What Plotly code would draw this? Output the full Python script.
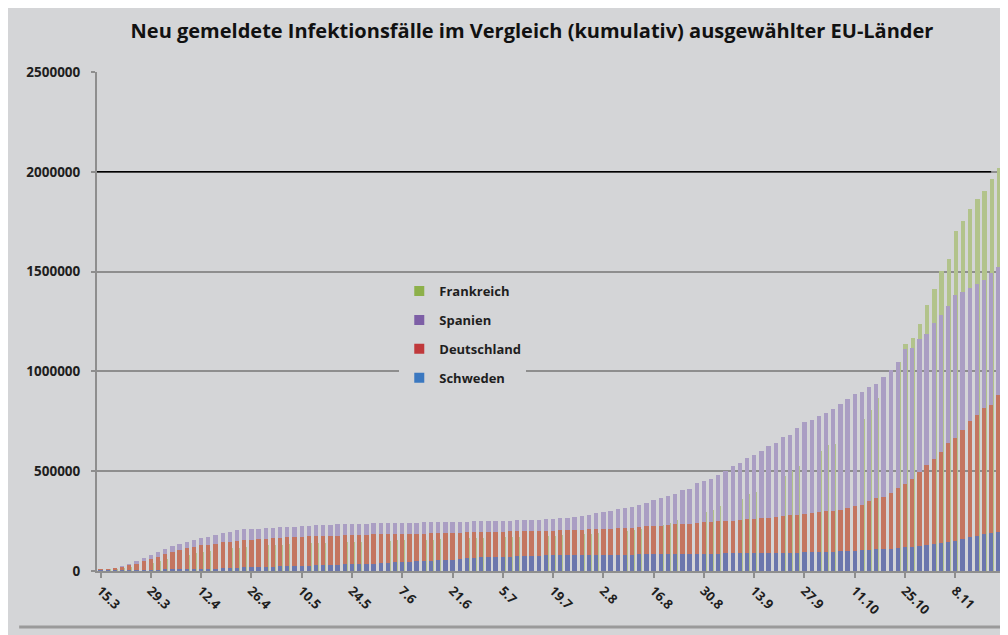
import pandas as pd
import plotly.graph_objects as go

# every second day from 15.3 to 20.11 (one row = two weeks)
dates = pd.date_range("2020-03-15", periods=126, freq="2D")
labels = [f"{d.day}.{d.month}" for d in dates]
tick_labels = labels[::7]

# cumulative cases in thousands
frankreich = [
    5.4, 7.7, 10.9, 14.5, 20.1, 25.2, 33.4,
    40.2, 52.1, 59.1, 68.6, 70.5, 82.0, 90.7,
    94.0, 98.1, 108.8, 112.6, 114.7, 117.3, 121.7,
    124.1, 125.8, 128.3, 130.2, 131.9, 137.8, 138.9,
    139.5, 140.2, 141.9, 142.3, 142.9, 143.8, 144.6,
    145.3, 145.6, 146.2, 148.8, 151.3, 152.4, 153.6,
    154.2, 154.6, 155.6, 156.8, 157.2, 158.2, 158.6,
    160.1, 161.3, 162.9, 163.5, 164.3, 165.7, 166.4,
    168.3, 169.5, 170.8, 171.0, 172.4, 173.3, 175.0,
    176.9, 178.3, 180.5, 182.2, 183.8, 186.6, 189.9,
    191.3, 193.8, 197.9, 202.8, 204.4, 211.6, 221.3,
    225.8, 232.6, 240.9, 254.6, 259.2, 272.1, 285.7,
    297.6, 307.4, 324.3, 342.3, 348.5, 363.2, 383.6,
    395.7, 411.0, 434.2, 459.8, 475.4, 499.2, 527.0,
    552.0, 570.7, 603.1, 631.9, 638.0, 664.9, 702.1,
    732.4, 761.7, 806.4, 867.5, 905.0, 956.9, 1046.8,
    1138.5, 1165.3, 1235.1, 1331.9, 1413.9, 1502.8, 1561.0,
    1705.0, 1755.0, 1812.0, 1865.0, 1905.0, 1962.0, 2020.0,
]
spanien = [
    7.8, 11.7, 17.1, 25.4, 35.1, 49.5, 64.1,
    78.8, 94.4, 110.2, 124.7, 135.0, 146.7, 157.0,
    163.0, 170.1, 180.7, 190.8, 196.7, 204.2, 208.4,
    209.5, 211.3, 213.4, 216.6, 218.0, 220.3, 222.9,
    224.4, 227.4, 229.5, 231.4, 232.0, 233.0, 234.8,
    235.4, 236.3, 237.9, 238.6, 239.6, 240.3, 240.9,
    241.3, 241.7, 242.3, 243.2, 244.1, 244.7, 245.6,
    246.3, 246.8, 247.5, 248.5, 248.8, 249.7, 250.1,
    250.5, 251.8, 253.1, 253.9, 255.9, 257.5, 258.9,
    260.3, 264.0, 267.6, 272.4, 276.0, 282.6, 288.5,
    293.9, 302.8, 309.9, 314.4, 323.0, 329.8, 342.8,
    356.5, 364.2, 377.9, 386.1, 405.4, 412.6, 439.3,
    452.7, 462.9, 479.6, 498.9, 525.5, 543.4, 566.3,
    582.0, 603.2, 625.7, 640.0, 671.5, 682.3, 716.5,
    748.3, 758.2, 778.6, 789.9, 813.4, 835.9, 861.1,
    888.9, 896.1, 921.4, 936.6, 974.4, 1005.3, 1046.1,
    1110.4, 1116.7, 1160.1, 1185.7, 1240.7, 1284.1, 1328.8,
    1381.2, 1398.3, 1417.7, 1437.2, 1458.6, 1492.4, 1523.8,
]
deutschland = [
    5.8, 9.4, 15.3, 22.2, 29.1, 37.3, 50.9,
    62.1, 71.8, 84.8, 96.1, 103.4, 113.3, 122.2,
    127.9, 131.4, 137.7, 143.3, 145.7, 150.6, 154.2,
    157.6, 159.1, 162.5, 164.8, 166.2, 168.2, 170.6,
    171.3, 173.2, 174.5, 175.7, 176.6, 177.8, 179.0,
    179.7, 180.6, 181.5, 182.9, 183.4, 184.1, 185.4,
    185.7, 186.5, 187.2, 187.8, 188.3, 189.8, 190.9,
    191.4, 192.9, 194.0, 194.9, 195.2, 196.0, 196.9,
    197.3, 198.1, 198.9, 199.7, 200.3, 201.0, 202.0,
    202.6, 203.7, 205.0, 206.2, 206.9, 208.7, 210.4,
    211.0, 212.0, 214.2, 216.3, 217.3, 219.9, 223.0,
    225.4, 227.4, 230.0, 233.8, 235.3, 238.0, 241.8,
    243.6, 245.4, 248.6, 251.7, 252.9, 256.0, 259.7,
    261.1, 263.7, 267.8, 271.4, 274.2, 278.1, 282.3,
    285.3, 289.2, 294.4, 299.2, 301.0, 307.1, 314.7,
    325.3, 333.0, 348.6, 366.3, 373.2, 392.0, 415.0,
    437.9, 459.3, 496.6, 532.9, 560.4, 597.6, 641.0,
    667.0, 705.3, 751.1, 783.0, 815.7, 833.3, 879.6,
]
schweden = [
    1.0, 1.2, 1.4, 1.8, 2.0, 2.5, 3.1,
    3.7, 4.4, 5.6, 6.8, 7.2, 8.4, 9.7,
    10.5, 11.4, 12.5, 13.8, 14.8, 16.0, 17.6,
    18.6, 19.6, 21.1, 22.3, 22.7, 23.9, 25.3,
    26.3, 27.3, 28.6, 29.7, 30.4, 31.5, 32.8,
    33.8, 34.4, 35.7, 37.5, 37.8, 40.8, 43.9,
    44.7, 46.8, 48.3, 50.9, 51.6, 54.6, 56.2,
    56.6, 60.8, 63.9, 65.1, 67.7, 69.7, 71.4,
    71.4, 72.6, 74.3, 75.8, 76.5, 77.3, 78.0,
    78.0, 78.5, 79.4, 79.8, 79.8, 80.4, 81.0,
    81.0, 81.5, 81.9, 82.3, 82.3, 83.1, 84.3,
    84.3, 84.7, 85.4, 85.8, 85.8, 86.3, 86.9,
    86.9, 87.3, 87.6, 88.0, 88.2, 88.6, 89.0,
    89.4, 89.8, 90.3, 90.9, 91.2, 91.8, 92.6,
    93.3, 94.1, 95.2, 96.3, 97.1, 98.4, 100.2,
    101.4, 103.2, 105.4, 107.8, 109.1, 112.0, 115.8,
    118.9, 121.9, 126.4, 131.1, 134.5, 141.0, 146.5,
    152.0, 162.2, 168.5, 177.4, 184.9, 190.0, 196.4,
]

# back to front: (name, values, washed bar colour, legend colour, bar offset)
SERIES = [
    ("Frankreich", frankreich, "#b2c38b", "#8db04a", -0.22),
    ("Spanien", spanien, "#aa9ec3", "#7d5fa6", -0.30),
    ("Deutschland", deutschland, "#c47560", "#c0393b", -0.30),
    ("Schweden", schweden, "#6b76ad", "#3b78c0", -0.30),
]
BG = "#d4d5d7"
GRID = "#8e8e8e"
FONT = "Open Sans"

fig = go.Figure()
for name, vals, color, _, off in SERIES:
    fig.add_trace(go.Bar(
        x=labels, y=[v * 1000 for v in vals],
        name=name, marker_color=color, marker_line_width=0,
        width=0.6, offset=off,
        showlegend=False,
    ))

# solid legend squares like the original
for name, _, _, legend_color, _ in SERIES:
    fig.add_trace(go.Scatter(
        x=[None], y=[None], mode="markers", name=name,
        marker=dict(symbol="square", size=10, color=legend_color),
        legendgroup=name,
    ))

# black reference line at 2 Mio
fig.add_shape(type="line", xref="paper", x0=0, x1=0.988, y0=2000000, y1=2000000,
              line=dict(color="black", width=1.5), layer="above")
# separator line under the chart
fig.add_shape(type="line", xref="paper", yref="paper", x0=-0.086, x1=1.01,
              y0=-0.112, y1=-0.112, line=dict(color="#9a9a9a", width=3))

fig.update_layout(
    width=1000, height=627,
    margin=dict(t=64, b=64, l=89, r=6),
    paper_bgcolor=BG, plot_bgcolor=BG,
    barmode="overlay", bargap=0,
    font=dict(family=FONT, color="#1e1e1e"),
    title=dict(
        text="<b>Neu gemeldete Infektionsfälle im Vergleich (kumulativ) ausgewählter EU-Länder</b>",
        x=0.524, xanchor="center", y=0.963, yanchor="middle",
        font=dict(size=20, color="#111"),
    ),
    legend=dict(
        x=0.334, y=0.591, xanchor="left", yanchor="top",
        bgcolor=BG, font=dict(size=13, weight="bold"),
        tracegroupgap=9,
    ),
)
fig.update_xaxes(
    type="category", tickvals=tick_labels, ticktext=tick_labels,
    tickangle=45, tickfont=dict(size=13, weight="bold"),
    showline=True, linecolor=GRID, linewidth=2,
    ticks="outside", ticklen=5, tickcolor=GRID, tickwidth=2,
    showgrid=False,
)
fig.update_yaxes(
    range=[0, 2500000], dtick=500000, tickformat="d",
    tickfont=dict(size=13.5, weight="bold"), ticklabelstandoff=8,
    showline=True, linecolor=GRID, linewidth=2,
    ticks="outside", ticklen=4, tickcolor=GRID, tickwidth=2,
    showgrid=True, gridcolor=GRID, gridwidth=2, zeroline=False,
)

fig.write_html("out.html")
